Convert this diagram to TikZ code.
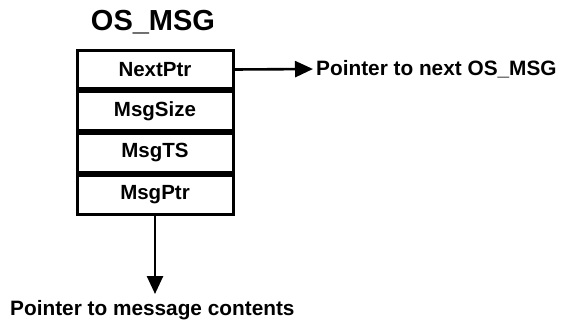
\documentclass[tikz,border=0pt]{standalone}
\usepackage{fontspec}
\setmainfont{Liberation Sans}
\usetikzlibrary{positioning, arrows.meta}
\tikzset{
  msFld/.style={rectangle, draw=black, line width=3pt,
                minimum width=156pt, minimum height=38.75pt,
                inner sep=0pt, font=\fontsize{20.5}{22}\selectfont\bfseries},
  msArrow/.style={-{Triangle[length=18pt, width=16pt]}, line width=2.6pt},
  msLabel/.style={font=\fontsize{20.8}{22}\selectfont\bfseries, inner sep=0pt},
  msTitle/.style={font=\fontsize{29}{32}\selectfont\bfseries, inner sep=0pt},
}
\begin{document}
\begin{tikzpicture}[x=1pt, y=-1pt]
  \useasboundingbox (0,0) rectangle (562,324);

  % ─── The structure ───────────────────────────────────────────
  \node[msTitle] (title) at (153,22) {OS\_MSG};
  \node[msFld] (next) at (155,69.5) {NextPtr};
  \node[msFld, below=0pt of next] (size) {MsgSize};
  \node[msFld, below=0pt of size] (ts)   {MsgTS};
  \node[msFld, below=0pt of ts]   (ptr)  {MsgPtr};

  % ─── Where the pointers go ───────────────────────────────────
  \node[msLabel, anchor=west] (nextlab) at (316,69) {Pointer to next OS\_MSG};
  \node[msLabel, anchor=west] (ptrlab)  at (10,310) {Pointer to message contents};

  \draw[msArrow, shorten >=3pt] (next.east) -- (nextlab.west);
  \draw[msArrow] (ptr.south) -- (ptr.south |- 0,294);

\end{tikzpicture}
\end{document}
